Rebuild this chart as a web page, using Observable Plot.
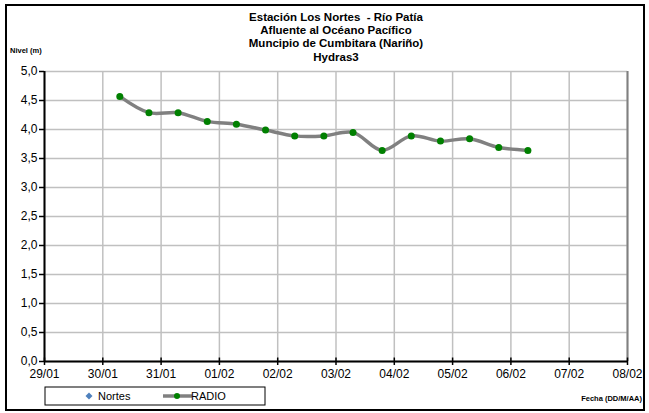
<!DOCTYPE html>
<html>
<head>
<meta charset="utf-8">
<script src="https://cdn.jsdelivr.net/npm/d3@7"></script>
<script src="https://cdn.jsdelivr.net/npm/@observablehq/plot@0.6"></script>
<style>
  html, body { margin: 0; padding: 0; background: #fff; }
  #chart { width: 649px; height: 413px; }
  svg { font-family: "Liberation Sans", Arial, sans-serif; }
</style>
</head>
<body>
<div id="chart"></div>
<script>
const titleLines = ["Estación Los Nortes  - Río Patía", "Afluente al Océano Pacífico", "Muncipio de Cumbitara (Nariño)", "Hydras3"];
const yLabel = "Nivel (m)";
const xLabel = "Fecha (DD/M/AA)";
const seriesNames = ["Nortes", "RADIO"];
const times = [
  "2013-01-30T07:00", "2013-01-30T19:00", "2013-01-31T07:00", "2013-01-31T19:00",
  "2013-02-01T07:00", "2013-02-01T19:00", "2013-02-02T07:00", "2013-02-02T19:00",
  "2013-02-03T07:00", "2013-02-03T19:00", "2013-02-04T07:00", "2013-02-04T19:00",
  "2013-02-05T07:00", "2013-02-05T19:00", "2013-02-06T07:00"
];
const radio = [4.57, 4.29, 4.29, 4.14, 4.09, 3.99, 3.89, 3.89, 3.95, 3.64, 3.89, 3.80, 3.84, 3.69, 3.64];
const xDomain = ["2013-01-29T00:00", "2013-02-08T00:00"];
const yTicks = [0, 0.5, 1, 1.5, 2, 2.5, 3, 3.5, 4, 4.5, 5];

const parse = s => new Date(s + "Z");
const data = times.map((t, i) => ({date: parse(t), value: radio[i]}));
const xd = xDomain.map(parse);
const dayTicks = d3.utcDay.range(xd[0], d3.utcDay.offset(xd[1], 1));
const fmtY = d => d.toFixed(1).replace(".", ",");

const plot = Plot.plot({
  width: 649,
  height: 413,
  marginLeft: 44,
  marginRight: 22,
  marginTop: 71,
  marginBottom: 52,
  style: {fontFamily: "Liberation Sans, Arial, sans-serif", fontSize: "12px", color: "#000", background: "#fff"},
  x: {type: "utc", domain: xd},
  y: {domain: [0, 5]},
  marks: [
    Plot.gridX(dayTicks, {stroke: "#c0c0c0", strokeOpacity: 1, strokeWidth: 1.5}),
    Plot.gridY(yTicks, {stroke: "#c0c0c0", strokeOpacity: 1, strokeWidth: 1.5}),
    Plot.ruleX([xd[1]], {stroke: "#808080", strokeWidth: 2}),
    Plot.axisY({ticks: yTicks, tickFormat: fmtY, tickSize: 5, tickPadding: 2, label: null, fontSize: 12, strokeWidth: 1.5}),
    Plot.axisX({ticks: dayTicks, tickFormat: d3.utcFormat("%d/%m"), tickSize: 4, tickPadding: 4, label: null, fontSize: 12, strokeWidth: 1.5}),
    Plot.ruleX(dayTicks, {x: d => d, y1: 0, y2: 0.06, stroke: "#000", strokeWidth: 1.5}),
    Plot.ruleY([0], {stroke: "#000", strokeWidth: 2}),
    Plot.ruleX([xd[0]], {stroke: "#000", strokeWidth: 2}),
    Plot.line(data, {x: "date", y: "value", stroke: "#808080", strokeWidth: 3.5, curve: "catmull-rom"}),
    Plot.dot(data, {x: "date", y: "value", fill: "#008000", r: 3.5, stroke: "none"})
  ]
});
document.getElementById("chart").appendChild(plot);

const svg = d3.select(plot);
// outer frame
svg.append("rect").attr("x", 6).attr("y", 5).attr("width", 638).attr("height", 405)
  .attr("fill", "none").attr("stroke", "#000").attr("stroke-width", 2);
// title
const tg = svg.append("g").attr("font-weight", "bold").attr("font-size", 11.5).attr("text-anchor", "middle");
titleLines.forEach((t, i) => {
  tg.append("text").attr("x", 336).attr("y", 21 + i * 13.2).text(t);
});
// y label
svg.append("text").attr("x", 10).attr("y", 53).attr("font-size", 7.5).attr("font-weight", "bold")
  .attr("text-anchor", "start").text(yLabel);
// x label
svg.append("text").attr("x", 642).attr("y", 401).attr("font-size", 7.5).attr("font-weight", "bold")
  .attr("text-anchor", "end").text(xLabel);
// legend
const lg = svg.append("g").attr("text-anchor", "start");
lg.append("rect").attr("x", 45).attr("y", 387).attr("width", 220).attr("height", 18)
  .attr("fill", "#fff").attr("stroke", "#000").attr("stroke-width", 1);
lg.append("path").attr("d", "M89,392.5 L92.5,396 L89,399.5 L85.5,396 Z").attr("fill", "#4f81bd");
lg.append("text").attr("x", 98).attr("y", 400).attr("font-size", 11).text(seriesNames[0]);
lg.append("line").attr("x1", 163).attr("x2", 192).attr("y1", 396).attr("y2", 396).attr("stroke", "#808080").attr("stroke-width", 3.5);
lg.append("circle").attr("cx", 177).attr("cy", 396).attr("r", 3).attr("fill", "#008000");
lg.append("text").attr("x", 191).attr("y", 400).attr("font-size", 11).text(seriesNames[1]);
</script>
</body>
</html>
